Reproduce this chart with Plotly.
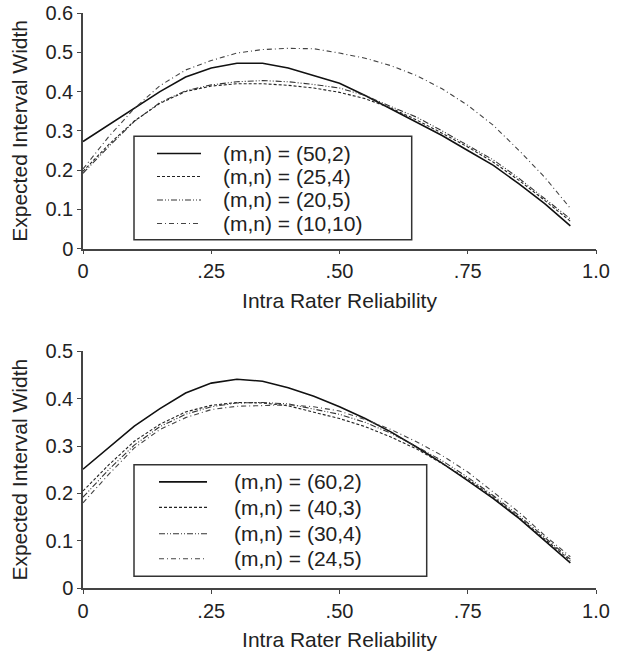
import plotly.graph_objects as go

# ---------------- data ----------------
reliability = [0.00, 0.05, 0.10, 0.15, 0.20, 0.25, 0.30, 0.35, 0.40, 0.45,
               0.50, 0.55, 0.60, 0.65, 0.70, 0.75, 0.80, 0.85, 0.90, 0.95]

# top panel
top_labels = ["(m,n) = (50,2)", "(m,n) = (25,4)", "(m,n) = (20,5)", "(m,n) = (10,10)"]
top_50_2 = [0.273, 0.315, 0.356, 0.400, 0.437, 0.460, 0.472, 0.472, 0.460, 0.441,
            0.421, 0.390, 0.356, 0.324, 0.288, 0.250, 0.212, 0.165, 0.115, 0.058]
top_25_4 = [0.197, 0.265, 0.325, 0.370, 0.400, 0.414, 0.420, 0.420, 0.416, 0.409,
            0.398, 0.382, 0.358, 0.328, 0.294, 0.259, 0.220, 0.174, 0.123, 0.070]
top_20_5 = [0.192, 0.260, 0.324, 0.372, 0.402, 0.417, 0.425, 0.428, 0.425, 0.418,
            0.409, 0.390, 0.362, 0.335, 0.300, 0.264, 0.226, 0.179, 0.128, 0.076]
top_10_10 = [0.203, 0.285, 0.357, 0.415, 0.455, 0.479, 0.498, 0.507, 0.510, 0.509,
             0.498, 0.485, 0.466, 0.441, 0.407, 0.365, 0.314, 0.250, 0.182, 0.103]

# bottom panel
bot_labels = ["(m,n) = (60,2)", "(m,n) = (40,3)", "(m,n) = (30,4)", "(m,n) = (24,5)"]
bot_60_2 = [0.251, 0.297, 0.342, 0.379, 0.412, 0.433, 0.441, 0.437, 0.423, 0.405,
            0.383, 0.358, 0.330, 0.298, 0.264, 0.227, 0.189, 0.147, 0.101, 0.053]
bot_40_3 = [0.205, 0.260, 0.310, 0.346, 0.372, 0.386, 0.392, 0.391, 0.385, 0.372,
            0.358, 0.341, 0.319, 0.294, 0.263, 0.230, 0.192, 0.149, 0.104, 0.058]
bot_30_4 = [0.192, 0.250, 0.302, 0.341, 0.367, 0.383, 0.391, 0.392, 0.389, 0.378,
            0.367, 0.350, 0.327, 0.299, 0.269, 0.234, 0.195, 0.153, 0.108, 0.061]
bot_24_5 = [0.180, 0.240, 0.296, 0.335, 0.360, 0.377, 0.384, 0.386, 0.387, 0.383,
            0.374, 0.356, 0.335, 0.309, 0.280, 0.245, 0.203, 0.160, 0.111, 0.066]

x_tickvals = [0, 0.25, 0.5, 0.75, 1.0]
x_ticktext = ["0", ".25", ".50", ".75", "1.0"]
top_yticks = [0, 0.1, 0.2, 0.3, 0.4, 0.5, 0.6]
top_yticktext = ["0", "0.1", "0.2", "0.3", "0.4", "0.5", "0.6"]
bot_yticks = [0, 0.1, 0.2, 0.3, 0.4, 0.5]
bot_yticktext = ["0", "0.1", "0.2", "0.3", "0.4", "0.5"]

x_title = "Intra Rater Reliability"
y_title = "Expected Interval Width"

# ---------------- styles ----------------
styles = [
    dict(color="#111111", width=1.6, dash="solid"),
    dict(color="#222222", width=1.1, dash="3px,2px"),
    dict(color="#333333", width=1.1, dash="6px,2px,1px,2px,1px,2px"),
    dict(color="#444444", width=1.1, dash="5px,3px,1px,3px"),
]

FONT = "Liberation Sans, Arial, Helvetica, sans-serif"
TXT = "#222222"

W, H = 618, 652
ML, MR = 83, 22
MT, MB = 12.5, 64.3
PW, PH = W - ML - MR, H - MT - MB


def py(pix):  # page pixel y -> plot-area paper fraction
    return (H - MB - pix) / PH


def px(pix):
    return (pix - ML) / PW


fig = go.Figure()

for series, name, st in zip([top_50_2, top_25_4, top_20_5, top_10_10], top_labels, styles):
    fig.add_trace(go.Scatter(x=reliability, y=series, mode="lines", name=name,
                             line=st, xaxis="x", yaxis="y", showlegend=False))
for series, name, st in zip([bot_60_2, bot_40_3, bot_30_4, bot_24_5], bot_labels, styles):
    fig.add_trace(go.Scatter(x=reliability, y=series, mode="lines", name=name,
                             line=st, xaxis="x2", yaxis="y2", showlegend=False))

top_dom = [py(248.3), 1.0]
bot_dom = [0.0, py(351)]

axis_common = dict(showline=True, linecolor="#444444", linewidth=1.5,
                   ticks="outside", ticklen=4, tickwidth=1.2, tickcolor="#444444",
                   showgrid=False, zeroline=False, automargin=False,
                   ticklabeloverflow="allow",
                   tickfont=dict(family=FONT, size=20, color=TXT))

xaxis_common = dict(axis_common, range=[0, 1.0], tickvals=x_tickvals, ticktext=x_ticktext,
                    domain=[0, 1],
                    title=dict(text=x_title, font=dict(family=FONT, size=21, color=TXT), standoff=12))

ytitle = dict(text=y_title, font=dict(family=FONT, size=21, color=TXT), standoff=12)

# ---------------- legend boxes (drawn as shapes + text) ----------------
shapes = []
annotations = []
legend_specs = [
    dict(box=(134, 135.7, 411.7, 239.3), sample=(157, 201), tx=221,
         rows=(153, 176, 199.5, 223), labels=top_labels),
    dict(box=(134, 464.3, 426.7, 576), sample=(159, 207), tx=232,
         rows=(481.5, 507, 533.5, 558.5), labels=bot_labels),
]
for spec in legend_specs:
    x0, y0, x1, y1 = spec["box"]
    shapes.append(dict(type="rect", xref="paper", yref="paper",
                       x0=px(x0), x1=px(x1), y0=py(y1), y1=py(y0),
                       line=dict(color="#333333", width=1.5), fillcolor="white", layer="above"))
    for lab, st, ry in zip(spec["labels"], styles, spec["rows"]):
        shapes.append(dict(type="line", xref="paper", yref="paper",
                           x0=px(spec["sample"][0]), x1=px(spec["sample"][1]),
                           y0=py(ry), y1=py(ry), line=st, layer="above"))
        annotations.append(dict(text=lab, xref="paper", yref="paper",
                                x=px(spec["tx"]), y=py(ry), xanchor="left", yanchor="middle",
                                showarrow=False, font=dict(family=FONT, size=21, color=TXT)))

fig.update_layout(
    width=W, height=H,
    margin=dict(l=ML, r=MR, t=MT, b=MB, autoexpand=False),
    paper_bgcolor="white", plot_bgcolor="white",
    font=dict(family=FONT, color=TXT),
    xaxis=dict(xaxis_common, anchor="y"),
    yaxis=dict(axis_common, domain=top_dom, anchor="x", range=[0, 0.6],
               tickvals=top_yticks, ticktext=top_yticktext, title=ytitle),
    xaxis2=dict(xaxis_common, anchor="y2"),
    yaxis2=dict(axis_common, domain=bot_dom, anchor="x2", range=[0, 0.5],
                tickvals=bot_yticks, ticktext=bot_yticktext, title=ytitle),
    shapes=shapes,
    annotations=annotations,
    showlegend=False,
)

# remove the browser's default 8px body margin so the figure fills the window exactly
fig.write_html("out.html", config={"displayModeBar": False},
               post_script="document.body.style.margin='0';")
